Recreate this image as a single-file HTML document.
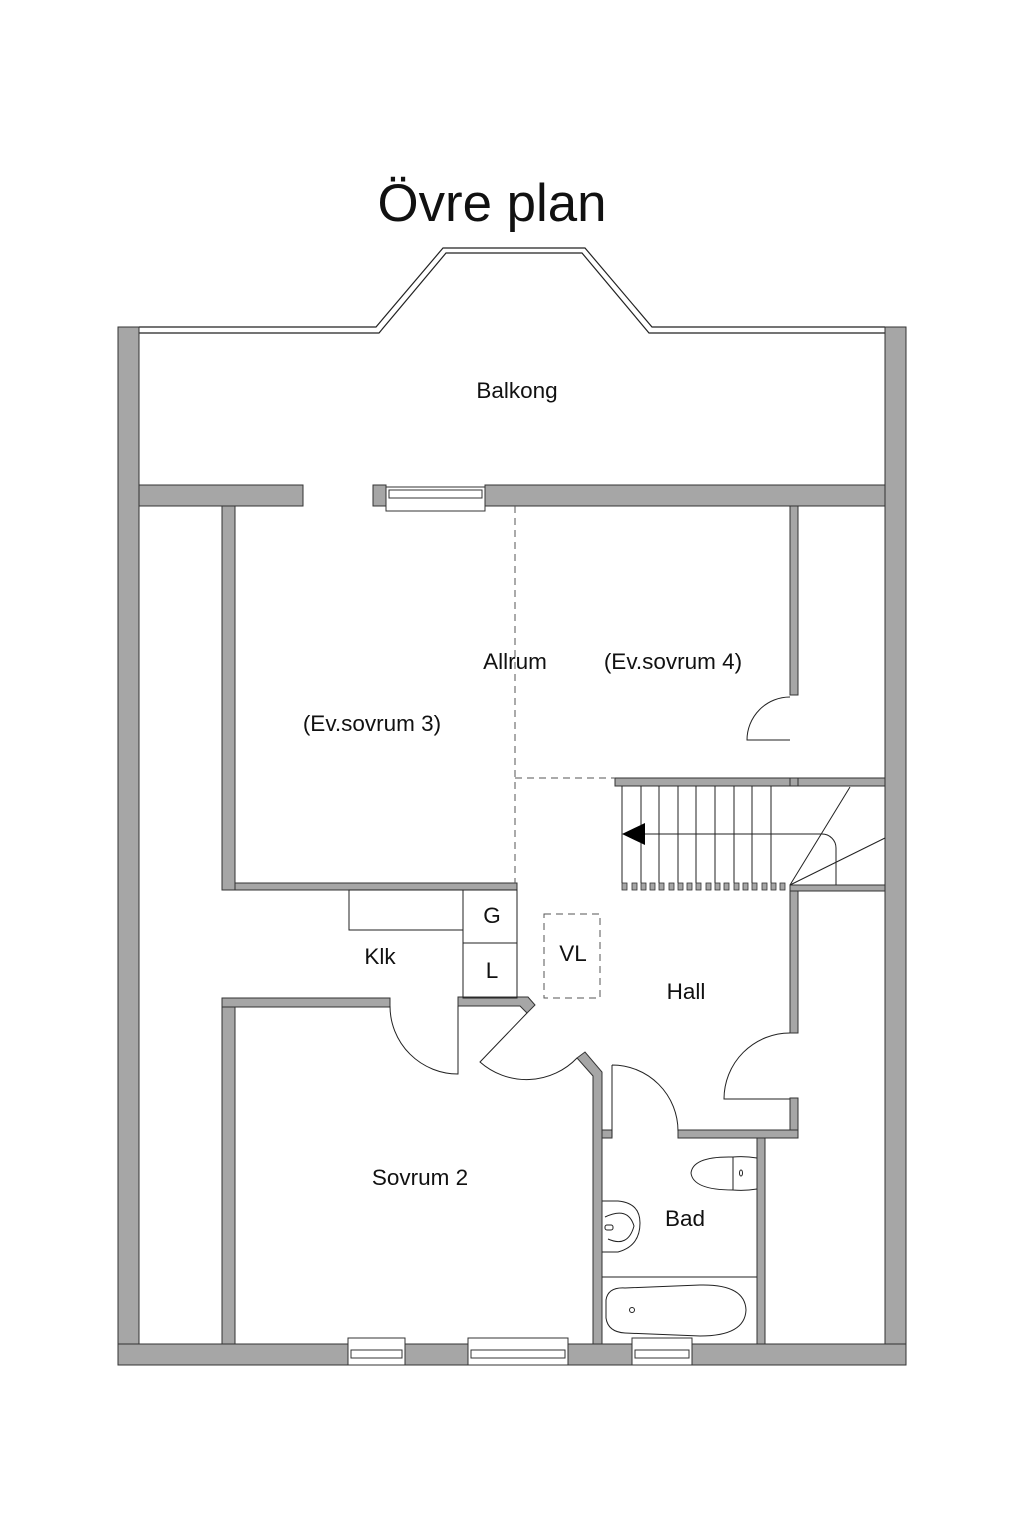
<!DOCTYPE html>
<html><head><meta charset="utf-8"><style>
html,body{margin:0;padding:0;background:#fff;}
svg{display:block;}
text{font-family:"Liberation Sans","DejaVu Sans",sans-serif;fill:#111;}
</style></head><body>
<svg width="1024" height="1540" viewBox="0 0 1024 1540" xmlns="http://www.w3.org/2000/svg">
<rect width="1024" height="1540" fill="#fff"/>
<text x="492" y="221" font-size="53" text-anchor="middle" textLength="229" lengthAdjust="spacingAndGlyphs">Övre plan</text>

<!-- balcony railing -->
<g fill="none" stroke="#222" stroke-width="1.2">
<polyline points="139,327 376,327 443,248 585,248 652,327 885,327"/>
<polyline points="139,333 379,333 446,253 582,253 649,333 885,333"/>
</g>

<g fill="#a6a6a6" stroke="#333" stroke-width="1">
<rect x="118" y="327" width="21" height="1038"/>
<rect x="885" y="327" width="21" height="1038"/>
<rect x="118" y="1344" width="788" height="21"/>
<rect x="139" y="485" width="164" height="21"/>
<rect x="373" y="485" width="13" height="21"/>
<rect x="485" y="485" width="400" height="21"/>
<rect x="222" y="506" width="13" height="384"/>
<rect x="222" y="998" width="13" height="346"/>
<rect x="790" y="506" width="8" height="189"/>
<rect x="615" y="778" width="270" height="8"/>
<rect x="790" y="778" width="8" height="8"/>
<rect x="790" y="885" width="95" height="6"/>
<rect x="790" y="891" width="8" height="142"/>
<rect x="790" y="1098" width="8" height="40"/>
<rect x="678" y="1130" width="120" height="8"/>
<rect x="757" y="1138" width="8" height="206"/>
<rect x="235" y="883" width="282" height="7"/>
<rect x="222" y="998" width="168" height="9"/>
<polygon points="458,997 528,997 535,1005 527,1013 520,1006 458,1006"/>
<polygon points="577,1058 585,1052 602,1072 602,1344 593,1344 593,1076"/>
<rect x="602" y="1130" width="10" height="8"/>
</g>

<!-- windows -->
<g fill="#fff" stroke="#333" stroke-width="1">
<rect x="386" y="487" width="99" height="24"/>
<rect x="389" y="490" width="93" height="8"/>
<rect x="348" y="1338" width="57" height="27"/>
<rect x="351" y="1350" width="51" height="8"/>
<rect x="468" y="1338" width="100" height="27"/>
<rect x="471" y="1350" width="94" height="8"/>
<rect x="632" y="1338" width="60" height="27"/>
<rect x="635" y="1350" width="54" height="8"/>
</g>

<!-- dashed -->
<g fill="none" stroke="#555" stroke-width="1" stroke-dasharray="7,5">
<line x1="515" y1="506" x2="515" y2="883"/>
<line x1="515" y1="778" x2="615" y2="778"/>
<rect x="544" y="914" width="56" height="84"/>
</g>

<!-- kitchen -->
<g fill="none" stroke="#222" stroke-width="1">
<rect x="349" y="890" width="114" height="40"/>
<rect x="463" y="890" width="54" height="53"/>
<rect x="463" y="943" width="54" height="55"/>
</g>

<!-- stairs -->
<g fill="none" stroke="#222" stroke-width="1">
<line x1="622" y1="786" x2="622" y2="883"/>
<line x1="641" y1="786" x2="641" y2="883"/>
<line x1="659" y1="786" x2="659" y2="883"/>
<line x1="678" y1="786" x2="678" y2="883"/>
<line x1="696" y1="786" x2="696" y2="883"/>
<line x1="715" y1="786" x2="715" y2="883"/>
<line x1="734" y1="786" x2="734" y2="883"/>
<line x1="752" y1="786" x2="752" y2="883"/>
<line x1="771" y1="786" x2="771" y2="883"/>
<line x1="645" y1="834" x2="822" y2="834"/>
<path d="M822,834 A14,14 0 0 1 836,848 L836,885"/>
<line x1="790" y1="885" x2="850" y2="787"/>
<line x1="790" y1="885" x2="885" y2="838"/>
</g>
<polygon points="622,834 645,823 645,845" fill="#000"/>
<g fill="#a6a6a6" stroke="#333" stroke-width="0.8">
<rect x="622" y="883" width="5" height="7"/><rect x="632" y="883" width="5" height="7"/>
<rect x="641" y="883" width="5" height="7"/><rect x="650" y="883" width="5" height="7"/>
<rect x="659" y="883" width="5" height="7"/><rect x="669" y="883" width="5" height="7"/>
<rect x="678" y="883" width="5" height="7"/><rect x="687" y="883" width="5" height="7"/>
<rect x="696" y="883" width="5" height="7"/><rect x="706" y="883" width="5" height="7"/>
<rect x="715" y="883" width="5" height="7"/><rect x="724" y="883" width="5" height="7"/>
<rect x="734" y="883" width="5" height="7"/><rect x="743" y="883" width="5" height="7"/>
<rect x="752" y="883" width="5" height="7"/><rect x="762" y="883" width="5" height="7"/>
<rect x="771" y="883" width="5" height="7"/><rect x="780" y="883" width="5" height="7"/>
</g>

<!-- doors -->
<g fill="none" stroke="#222" stroke-width="1">
<path d="M790,697 A43,43 0 0 0 747,740 L790,740"/>
<path d="M390,1006 A68,68 0 0 0 458,1074 L458,1006"/>
<path d="M527,1013 L480,1062 A70,70 0 0 0 577,1058"/>
<path d="M612,1065 L612,1137 M612,1065 A66,66 0 0 1 678,1131"/>
<path d="M790,1033 A66,66 0 0 0 724,1099 L790,1099"/>
</g>

<!-- bathroom fixtures -->
<g fill="none" stroke="#222" stroke-width="1">
<line x1="602" y1="1277" x2="757" y2="1277"/>
<path d="M606,1300 Q608,1287 625,1288 L700,1285 Q745,1284 746,1310 Q745,1336 700,1336 L625,1333 Q608,1332 606,1318 Z"/>
<circle cx="632" cy="1310" r="2.5"/>
<path d="M733,1157 L733,1190 M757,1158 Q745,1156 733,1157 M757,1189 Q745,1191 733,1190 M733,1157 Q693,1156 691,1173 Q693,1190 733,1190"/>
<ellipse cx="741" cy="1173" rx="1.5" ry="3"/>
<path d="M602,1201 L618,1201 Q640,1203 640,1223 Q640,1246 618,1252 L602,1252"/>
<path d="M605,1217 Q628,1206 634,1226 Q628,1248 608,1239"/>
<rect x="605" y="1225" width="8" height="5" rx="2"/>
</g>

<!-- labels -->
<g font-size="22.5" text-anchor="middle">
<text x="517" y="398">Balkong</text>
<text x="515" y="669">Allrum</text>
<text x="673" y="669">(Ev.sovrum 4)</text>
<text x="372" y="731">(Ev.sovrum 3)</text>
<text x="380" y="964">Klk</text>
<text x="492" y="923">G</text>
<text x="492" y="978">L</text>
<text x="573" y="961">VL</text>
<text x="686" y="999">Hall</text>
<text x="420" y="1185">Sovrum 2</text>
<text x="685" y="1226">Bad</text>
</g>
</svg>
</body></html>
